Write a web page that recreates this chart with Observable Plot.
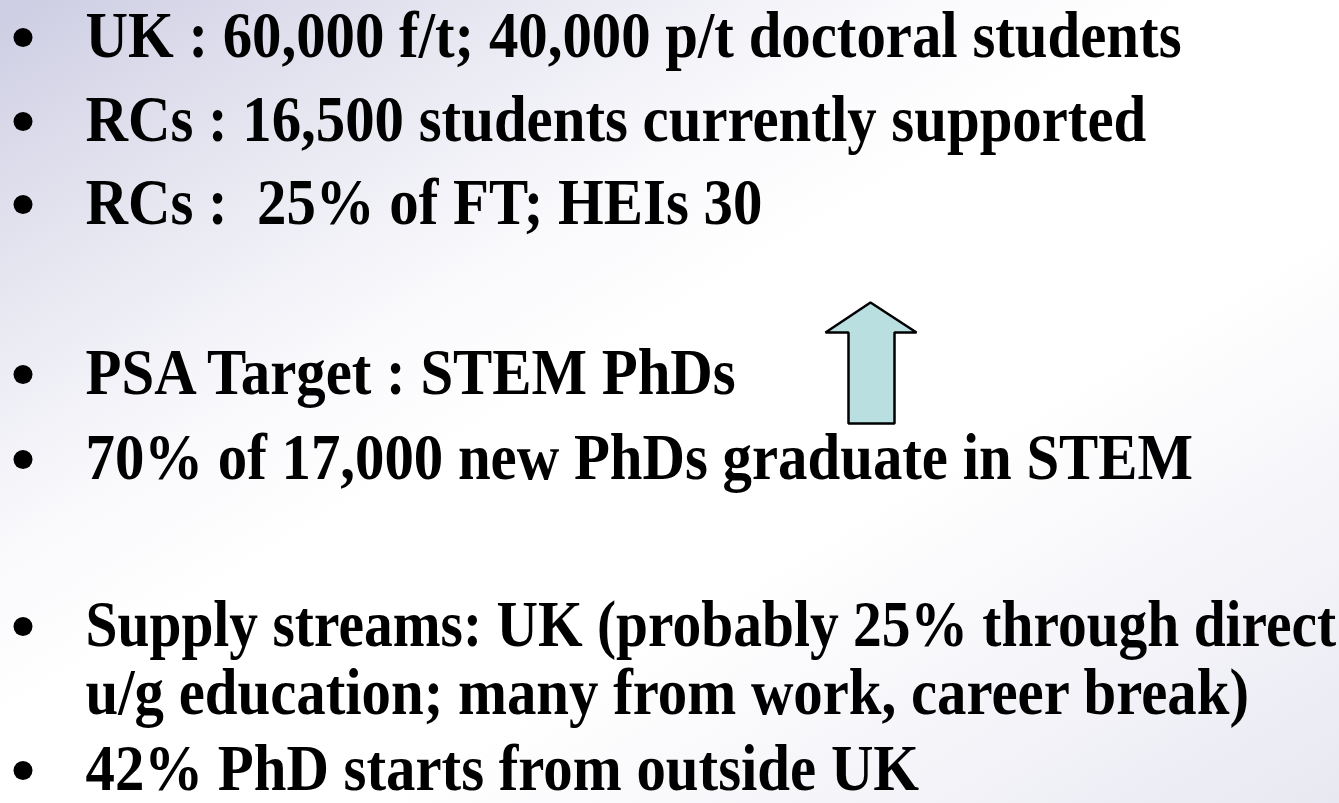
<!DOCTYPE html>
<html>
<head>
<meta charset="utf-8">
<script src="https://cdn.jsdelivr.net/npm/d3@7"></script>
<script src="https://cdn.jsdelivr.net/npm/@observablehq/plot@0.6"></script>
<style>
  html, body { margin: 0; padding: 0; }
  body {
    width: 1339px; height: 803px; overflow: hidden;
    background: linear-gradient(to bottom right, #cdcde3 0%, #e6e6f1 18%, #f9f9fc 34%, #ffffff 45%, #ffffff 64%, #f4f4f9 82%, #e8e8f2 100%);
  }
</style>
</head>
<body>
<div id="chart"></div>
<script>
// Slide lines: text and baseline (slide units, top = 0)
const lineTexts = [
  "UK : 60,000 f/t; 40,000 p/t doctoral students",
  "RCs : 16,500 students currently supported",
  "RCs :  25% of FT; HEIs 30",
  "PSA Target : STEM PhDs",
  "70% of 17,000 new PhDs graduate in STEM",
  "Supply streams: UK (probably 25% through direct",
  "u/g education; many from work, career break)",
  "42% PhD starts from outside UK"
];
const lineBaselines = [56, 140, 223, 393, 478, 645, 713, 789];
const lineHasBullet = [true, true, true, true, true, true, false, true];

// Up-arrow outline (slide units)
const arrowX = [870, 916, 894, 894, 848, 848, 825];
const arrowY = [302, 332, 332, 423, 423, 332, 332];

const W = 1339, H = 803;
const FS = 65;
const TEXT_X = 85, CONDENSE = 0.905, RIGHT_LIMIT = 1336;

const lines = lineTexts.map((t, i) => ({text: t, baseline: lineBaselines[i], bullet: lineHasBullet[i]}));
const arrow = arrowX.map((x, i) => ({x, y: arrowY[i]}));

const plot = Plot.plot({
  width: W, height: H,
  margin: 0,
  style: {background: "transparent", overflow: "visible"},
  x: {domain: [0, W], range: [0, W], axis: null},
  y: {domain: [0, H], range: [0, H], axis: null},
  marks: [
    Plot.line(arrow, {x: "x", y: "y", curve: "linear-closed", fill: "#b9dfe1", stroke: "black", strokeWidth: 2.5, strokeLinejoin: "miter"}),
    Plot.dot(lines.filter(d => d.bullet), {x: 22.5, y: d => d.baseline - 19, r: 9.5, fill: "black", stroke: null}),
    Plot.text(lines, {
      x: TEXT_X, y: d => d.baseline - 0.32 * FS, text: "text",
      textAnchor: "start", lineAnchor: "middle",
      fontSize: FS, fontFamily: "Liberation Serif", fontWeight: "bold",
      fill: "black"
    })
  ]
});
document.getElementById("chart").appendChild(plot);

// Condense the type horizontally (the original face is a narrow serif), keeping it inside the slide
plot.querySelectorAll('g[aria-label="text"] text').forEach(t => {
  const len = t.getComputedTextLength();
  const k = Math.min(CONDENSE, (RIGHT_LIMIT - TEXT_X) / len);
  const tr = t.getAttribute("transform");
  if (tr) {
    t.setAttribute("transform", tr + ` scale(${k},1)`);
  } else {
    const x0 = +t.getAttribute("x") || 0;
    t.setAttribute("transform", `translate(${x0},0) scale(${k},1) translate(${-x0},0)`);
  }
});
</script>
</body>
</html>
